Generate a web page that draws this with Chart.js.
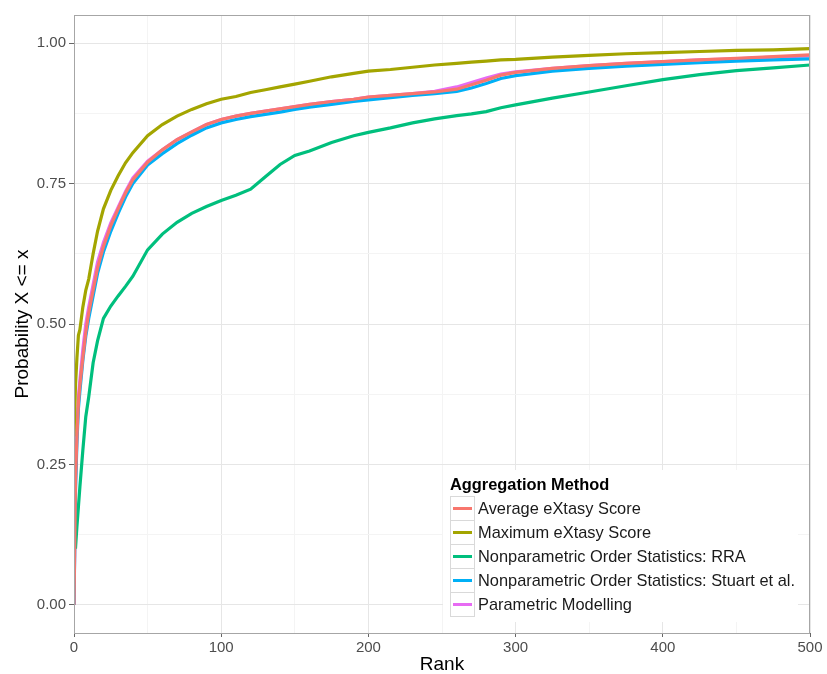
<!DOCTYPE html>
<html lang="en">
<head>
    <meta charset="UTF-8">
    <title>Aggregation Method - cumulative probability by rank</title>
    <script src="https://cdn.jsdelivr.net/npm/chart.js"></script>
    <style>
        body { margin: 0; background: #fff; }
    </style>
</head>
<body>
    <canvas id="rankChart" width="827" height="674"></canvas>

    <script>
        // Ranks shared by all series
        const ranks = [0, 1, 2, 3, 4, 6, 8, 10, 13, 16, 20, 25, 30, 35, 40, 50, 60, 70, 80, 90, 100,
                       110, 120, 130, 140, 150, 160, 175, 190, 200, 215, 230, 245, 260, 270, 280, 290, 300,
                       325, 350, 375, 400, 425, 450, 475, 500];

        // Probability X <= x
        const averageScore = [0.0, 0.22, 0.30, 0.36, 0.39, 0.44, 0.485, 0.52, 0.56, 0.60, 0.638, 0.675, 0.705, 0.733, 0.757, 0.788, 0.81, 0.828, 0.842, 0.855, 0.864,
                              0.87, 0.875, 0.879, 0.883, 0.887, 0.891, 0.896, 0.90, 0.904, 0.907, 0.91, 0.913, 0.918, 0.926, 0.934, 0.943, 0.948,
                              0.955, 0.96, 0.964, 0.967, 0.97, 0.973, 0.976, 0.979];
        const maximumScore = [0.30, 0.39, 0.44, 0.48, 0.49, 0.53, 0.56, 0.58, 0.625, 0.665, 0.705, 0.738, 0.764, 0.787, 0.805, 0.835, 0.855, 0.87, 0.882, 0.892, 0.90,
                              0.905, 0.912, 0.917, 0.922, 0.927, 0.932, 0.94, 0.946, 0.95, 0.953, 0.957, 0.961, 0.964, 0.966, 0.968, 0.97, 0.971,
                              0.975, 0.978, 0.981, 0.983, 0.985, 0.987, 0.988, 0.99];
        const rraScore = [null, 0.10, 0.14, 0.175, 0.21, 0.275, 0.335, 0.37, 0.431, 0.47, 0.51, 0.532, 0.55, 0.567, 0.585, 0.632, 0.66, 0.681, 0.697, 0.709, 0.72,
                          0.729, 0.74, 0.762, 0.784, 0.80, 0.808, 0.823, 0.835, 0.841, 0.849, 0.858, 0.865, 0.871, 0.874, 0.878, 0.885, 0.89,
                          0.902, 0.913, 0.924, 0.935, 0.944, 0.951, 0.956, 0.961];
        const stuartScore = [0.0, 0.20, 0.29, 0.35, 0.38, 0.435, 0.478, 0.51, 0.55, 0.59, 0.628, 0.665, 0.697, 0.726, 0.75, 0.783, 0.803, 0.821, 0.836, 0.849, 0.858,
                             0.864, 0.869, 0.873, 0.877, 0.882, 0.886, 0.891, 0.896, 0.899, 0.903, 0.907, 0.91, 0.914, 0.92, 0.928, 0.937, 0.942,
                             0.95, 0.955, 0.959, 0.962, 0.965, 0.968, 0.97, 0.972];
        const parametricScore = [0.0, 0.22, 0.31, 0.37, 0.40, 0.455, 0.50, 0.53, 0.57, 0.61, 0.645, 0.68, 0.708, 0.736, 0.76, 0.79, 0.81, 0.828, 0.842, 0.855, 0.864,
                                 0.87, 0.875, 0.879, 0.883, 0.887, 0.891, 0.896, 0.90, 0.904, 0.907, 0.91, 0.914, 0.922, 0.93, 0.938, 0.945, 0.949,
                                 0.955, 0.96, 0.964, 0.967, 0.97, 0.972, 0.975, 0.977];

        const seriesNames = ['Average eXtasy Score', 'Maximum eXtasy Score', 'Nonparametric Order Statistics: RRA',
                             'Nonparametric Order Statistics: Stuart et al.', 'Parametric Modelling'];
        const seriesColors = ['#F8766D', '#A3A500', '#00BF7D', '#00B0F6', '#E76BF3'];
        const seriesValues = [averageScore, maximumScore, rraScore, stuartScore, parametricScore];

        const yTicks = [0, 0.125, 0.25, 0.375, 0.5, 0.625, 0.75, 0.875, 1.0];
        const xTicks = [0, 50, 100, 150, 200, 250, 300, 350, 400, 450, 500];

        const FONT = '"Liberation Sans", Arial, Helvetica, sans-serif';
        Chart.defaults.font.family = FONT;

        const isMajorY = v => Math.abs(v * 4 - Math.round(v * 4)) < 1e-6;
        const isMajorX = v => v % 100 === 0;

        // panel border + legend inside the panel (ggplot style)
        const panelDecor = {
            id: 'panelDecor',
            afterDraw(chart) {
                const { ctx, chartArea: a } = chart;
                ctx.save();
                ctx.strokeStyle = '#a6a6a6';
                ctx.lineWidth = 1;
                ctx.strokeRect(a.left + 0.5, a.top + 0.5, a.right - a.left - 1, a.bottom - a.top);

                // legend box
                const lx = 443, ly = 470, lw = 355, lh = 152;
                ctx.fillStyle = '#ffffff';
                ctx.fillRect(lx, ly, lw, lh);

                ctx.fillStyle = '#000';
                ctx.font = 'bold 16.4px ' + FONT;
                ctx.textBaseline = 'alphabetic';
                ctx.textAlign = 'left';
                ctx.fillText('Aggregation Method', 450, 490);

                const keyX = 450, keyY = 496, keyW = 24, keyH = 24;
                chart.data.datasets.forEach((ds, i) => {
                    const y = keyY + i * keyH;
                    ctx.strokeStyle = '#d9d9d9';
                    ctx.lineWidth = 1;
                    ctx.strokeRect(keyX + 0.5, y + 0.5, keyW, keyH);
                    ctx.strokeStyle = ds.borderColor;
                    ctx.lineWidth = 3;
                    ctx.beginPath();
                    ctx.moveTo(keyX + 3, y + keyH / 2 + 0.5);
                    ctx.lineTo(keyX + keyW - 2, y + keyH / 2 + 0.5);
                    ctx.stroke();
                    ctx.fillStyle = '#1a1a1a';
                    ctx.font = '16.4px ' + FONT;
                    ctx.textBaseline = 'middle';
                    ctx.fillText(ds.label, keyX + keyW + 4, y + keyH / 2 + 1);
                });
                ctx.restore();
            }
        };

        const datasets = seriesNames.map((name, i) => ({
            label: name,
            data: ranks.map((r, j) => ({ x: r, y: seriesValues[i][j] })).filter(p => p.y !== null),
            borderColor: seriesColors[i],
            backgroundColor: seriesColors[i],
            borderWidth: 3.2,
            pointRadius: 0,
            tension: 0,
            fill: false
        }));

        new Chart(document.getElementById('rankChart'), {
            type: 'line',
            data: { datasets },
            options: {
                responsive: false,
                animation: false,
                devicePixelRatio: 1,
                layout: { padding: { top: 15, right: 17, left: 0, bottom: 0 } },
                plugins: {
                    legend: { display: false },
                    tooltip: { enabled: false }
                },
                scales: {
                    x: {
                        type: 'linear',
                        min: 0,
                        max: 500,
                        afterBuildTicks: s => { s.ticks = xTicks.map(v => ({ value: v })); },
                        afterFit: s => { s.height = 41; },
                        border: { display: false },
                        grid: {
                            color: c => isMajorX(c.tick.value) ? '#e6e6e6' : '#f4f4f4',
                            tickColor: c => isMajorX(c.tick.value) ? '#666' : 'rgba(0,0,0,0)',
                            tickLength: 4
                        },
                        ticks: {
                            autoSkip: false,
                            maxRotation: 0,
                            padding: 2,
                            color: '#4d4d4d',
                            font: { size: 15 },
                            callback: v => isMajorX(v) ? String(v) : ''
                        },
                        title: {
                            display: true,
                            text: 'Rank',
                            color: '#000',
                            font: { size: 19, lineHeight: 1 },
                            padding: { top: 0, bottom: 0 }
                        }
                    },
                    y: {
                        min: -0.05,
                        max: 1.05,
                        afterBuildTicks: s => { s.ticks = yTicks.map(v => ({ value: v })); },
                        afterFit: s => { s.width = 74; },
                        border: { display: false },
                        grid: {
                            color: c => isMajorY(c.tick.value) ? '#e6e6e6' : '#f4f4f4',
                            tickColor: c => isMajorY(c.tick.value) ? '#666' : 'rgba(0,0,0,0)',
                            tickLength: 5
                        },
                        ticks: {
                            autoSkip: false,
                            padding: 3,
                            color: '#4d4d4d',
                            font: { size: 15 },
                            callback: v => isMajorY(v) ? v.toFixed(2) : ''
                        },
                        title: {
                            display: true,
                            text: 'Probability X <= x',
                            color: '#000',
                            font: { size: 19, lineHeight: 1 },
                            padding: { top: 13, bottom: 0 }
                        }
                    }
                }
            },
            plugins: [panelDecor]
        });
    </script>
</body>
</html>
